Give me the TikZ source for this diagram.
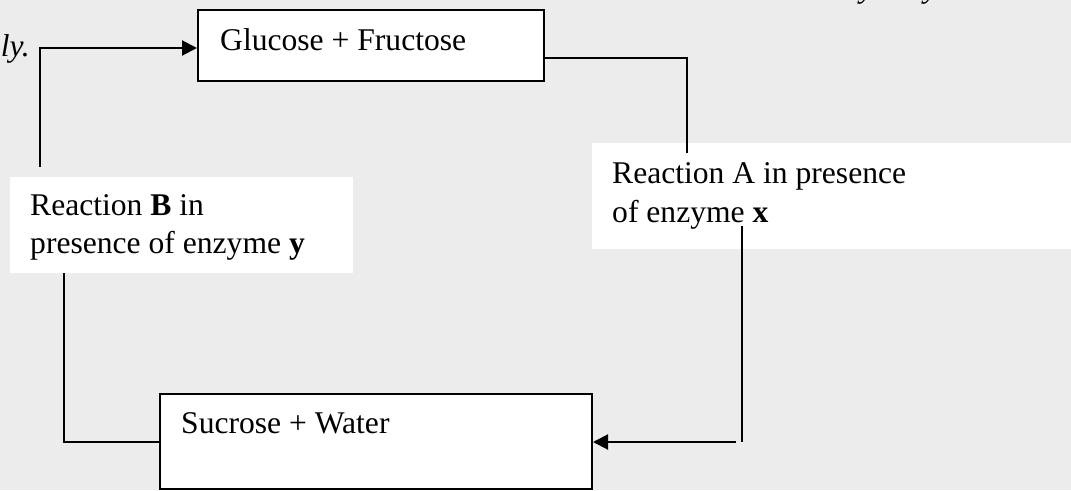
\documentclass[tikz,border=0pt]{standalone}
\usepackage{fontspec}
\setmainfont{Liberation Serif}
\usetikzlibrary{arrows.meta}
\definecolor{bggray}{RGB}{236,236,236}
\begin{document}
\begin{tikzpicture}[x=1pt,y=-1pt,
  boxframe/.style={draw=black,line width=2pt,fill=white,minimum width=#1,inner sep=0pt},
  whitepanel/.style={fill=white,draw=none,inner sep=0pt},
  txt/.style={anchor=base west,inner sep=0pt,font=\fontsize{31.6}{38}\selectfont},
  conn/.style={line width=2pt},
  arr/.style={line width=2pt,-{Triangle[length=15pt,width=15pt]}}]
\useasboundingbox (0,0) rectangle (1071,490);
\clip (0,0) rectangle (1071,490);
\fill[bggray] (0,0) rectangle (1071,490);

% boxes
\node[boxframe=346pt,minimum height=71pt] (glu) at (371,45.5) {};
\node[boxframe=432pt,minimum height=95pt] (suc) at (376,441) {};
\node[whitepanel,minimum width=479pt,minimum height=106pt] (ra) at (831.5,196) {};
\node[whitepanel,minimum width=343pt,minimum height=96pt] (rb) at (181.5,225) {};

% texts
\node[txt] (glut) at (220,50) {Glucose + Fructose};
\node[txt] (suct) at (181,433) {Sucrose + Water};
\node[txt] (ra1) at (612,183) {Reaction A in presence};
\node[txt] (ra2) at (612,222) {of enzyme \textbf{x}};
\node[txt] (rb1) at (30,215) {Reaction \textbf{B} in};
\node[txt] (rb2) at (30,253) {presence of enzyme \textbf{y}};
\node[txt,anchor=base east] (ly) at (30,56) {\textit{ly.}};
\node[txt] (y1) at (860,-3) {\textit{y}};
\node[txt] (y2) at (924,-3) {\textit{y}};

% connector coordinates
\coordinate (aTop) at (687,153);
\coordinate (aBot) at (742,226);
\coordinate (aCorner) at (742,442);
\coordinate (aStart) at (736,442);
\coordinate (bTop) at (40,167);
\coordinate (bBot) at (64,273);

% connectors
\draw[conn] (glu.east |- 0,58) -| (aTop);
\draw[conn] (aBot) -- (aCorner);
\draw[arr] (aStart) -- (suc.east |- aStart);
\draw[conn] (suc.west |- 0,442) -| (bBot);
\draw[arr] (bTop) |- (glu.west |- 0,48);
\end{tikzpicture}
\end{document}
